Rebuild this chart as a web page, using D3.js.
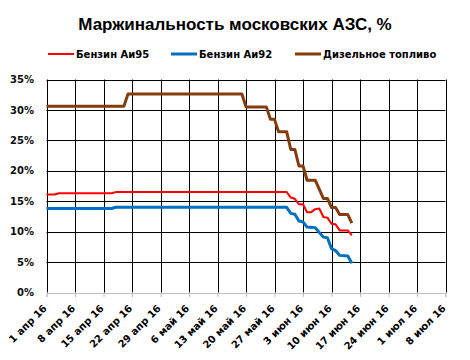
<!DOCTYPE html>
<html><head><meta charset="utf-8">
<script src="https://cdn.jsdelivr.net/npm/d3@7"></script>
<style>body{margin:0;background:#fff;}svg{display:block;}</style>
</head><body>
<svg id="c" width="470" height="360"></svg>
<script>
const title = "Маржинальность московских АЗС, %";
const seriesNames = ["Бензин Аи95", "Бензин Аи92", "Дизельное топливо"];
const seriesColors = ["#ff0000", "#0070c0", "#843c0c"];
const seriesWidths = [2, 3, 3];

const ai95Dates = ["2016-04-01","2016-04-03","2016-04-04","2016-04-17","2016-04-18","2016-05-30","2016-05-31","2016-06-01","2016-06-02","2016-06-03","2016-06-04","2016-06-05","2016-06-06","2016-06-07","2016-06-08","2016-06-09","2016-06-10","2016-06-11","2016-06-12","2016-06-14","2016-06-15"];
const ai95Values = [16.1,16.1,16.3,16.3,16.5,16.5,15.6,15.4,14.5,14.5,13.2,13.2,13.7,13.8,12.4,12.3,11.3,11.2,10.2,10.2,9.4];

const ai92Dates = ["2016-04-01","2016-04-17","2016-04-18","2016-05-30","2016-05-31","2016-06-01","2016-06-02","2016-06-03","2016-06-04","2016-06-06","2016-06-08","2016-06-09","2016-06-10","2016-06-11","2016-06-12","2016-06-14","2016-06-15"];
const ai92Values = [13.8,13.8,14.0,14.0,13.0,12.85,11.75,11.6,10.75,10.65,9.1,9.0,7.2,6.9,6.1,6.0,4.8];

const dieselDates = ["2016-04-01","2016-04-20","2016-04-21","2016-05-19","2016-05-20","2016-05-25","2016-05-26","2016-05-27","2016-05-28","2016-05-30","2016-05-31","2016-06-01","2016-06-02","2016-06-03","2016-06-04","2016-06-06","2016-06-08","2016-06-09","2016-06-10","2016-06-11","2016-06-12","2016-06-14","2016-06-15"];
const dieselValues = [30.6,30.6,32.6,32.6,30.5,30.5,28.45,28.45,26.4,26.4,23.5,23.5,20.8,20.8,18.45,18.45,15.45,15.45,13.95,13.95,12.8,12.8,11.4];

const tickDates = ["2016-04-01","2016-04-08","2016-04-15","2016-04-22","2016-04-29","2016-05-06","2016-05-13","2016-05-20","2016-05-27","2016-06-03","2016-06-10","2016-06-17","2016-06-24","2016-07-01","2016-07-08"];
const tickLabels = ["1 апр 16","8 апр 16","15 апр 16","22 апр 16","29 апр 16","6 май 16","13 май 16","20 май 16","27 май 16","3 июн 16","10 июн 16","17 июн 16","24 июн 16","1 июл 16","8 июл 16"];
const yTicks = [0,5,10,15,20,25,30,35];

const parse = d3.utcParse("%Y-%m-%d");
const svg = d3.select("#c");
const titleFont = "'Liberation Sans', Arial, sans-serif";
const font = "'DejaVu Sans', Verdana, sans-serif";

const x = d3.scaleUtc().domain([parse(tickDates[0]), parse(tickDates[tickDates.length-1])]).range([46.5, 445.5]);
const y = d3.scaleLinear().domain([0, 35]).range([292.5, 79.5]);

// title
svg.append("text").attr("x", 235).attr("y", 30).attr("text-anchor", "middle")
  .style("font-family", titleFont).style("font-weight", "bold").style("font-size", "17px")
  .text(title);

// horizontal gridlines
svg.append("g").selectAll("line").data(yTicks.filter(d => d > 0)).join("line")
  .attr("x1", x.range()[0]).attr("x2", x.range()[1])
  .attr("y1", d => Math.round(y(d)) + 0.5).attr("y2", d => Math.round(y(d)) + 0.5)
  .attr("stroke", "#000").attr("stroke-width", 1);

// vertical gridlines
const tds = tickDates.map(parse);
svg.append("g").selectAll("line").data(tds).join("line")
  .attr("x1", d => Math.round(x(d)) + 0.5).attr("x2", d => Math.round(x(d)) + 0.5)
  .attr("y1", y(35)).attr("y2", y(0))
  .attr("stroke", "#000").attr("stroke-width", 1);

// x axis (gray)
const xAxis = d3.axisBottom(x).tickValues(tds).tickSize(4).tickFormat("");
const gx = svg.append("g").attr("transform", `translate(0,${Math.round(y(0))})`).call(xAxis);
gx.select(".domain").attr("stroke", "#bfbfbf");
gx.selectAll(".tick line").attr("stroke", "#bfbfbf");

// x labels
svg.append("g").selectAll("text").data(tds).join("text")
  .attr("transform", (d) => `translate(${x(d) + 1},${309}) rotate(-45)`)
  .attr("text-anchor", "end")
  .style("font-family", font).style("font-weight", "bold").style("font-size", "10px")
  .text((d, i) => tickLabels[i]);

// y labels
const yAxis = d3.axisLeft(y).tickValues(yTicks).tickSize(0).tickPadding(0).tickFormat(d => d + "%");
const gy = svg.append("g").attr("transform", `translate(34,0)`).call(yAxis);
gy.select(".domain").remove();
gy.selectAll("text").style("font-family", font).style("font-weight", "bold").style("font-size", "10px").attr("fill", "#0d0d0d");

// lines
const series = [
  {dates: ai95Dates, values: ai95Values},
  {dates: ai92Dates, values: ai92Values},
  {dates: dieselDates, values: dieselValues}
];
const line = d3.line().x(d => x(d[0])).y(d => y(d[1]));
const drawOrder = [2, 0, 1];
drawOrder.forEach(i => {
  const s = series[i];
  const pts = s.dates.map((d, j) => [parse(d), s.values[j]]);
  svg.append("path").datum(pts).attr("d", line)
    .attr("fill", "none").attr("stroke", seriesColors[i]).attr("stroke-width", seriesWidths[i])
    .attr("stroke-linejoin", "round");
});

// legend
const legX = [48, 171, 295];
const lg = svg.append("g");
seriesNames.forEach((n, i) => {
  lg.append("line").attr("x1", legX[i]).attr("x2", legX[i] + 26).attr("y1", 54).attr("y2", 54)
    .attr("stroke", seriesColors[i]).attr("stroke-width", seriesWidths[i]);
  lg.append("text").attr("x", legX[i] + 28).attr("y", 58)
    .style("font-family", font).style("font-weight", "bold").style("font-size", "10px")
    .text(n);
});
</script>
</body></html>
